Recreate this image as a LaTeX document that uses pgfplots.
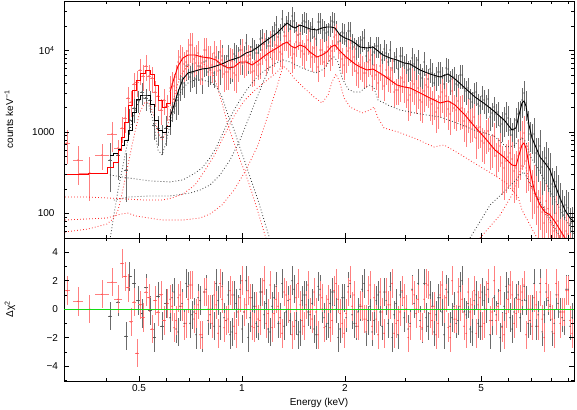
\documentclass[border=0pt]{standalone}
\usepackage{fontspec}
\setmainfont{Liberation Sans}
\usepackage{pgfplots}
\usepackage{pgfplotstable}
\pgfplotsset{compat=1.18}
\definecolor{zgreen}{RGB}{20,220,20}

% spectra: energy (keV), counts/keV, relative error, residual
\pgfplotstableread{
E C r res
0.6158 1404 0.35 -0.6
0.6326 2541 0.35 1.2
0.6499 2470 0.35 -1.6
0.6676 4345 0.35 0.4
0.6858 6454 0.35 1.8
0.7046 4730 0.35 -1.0
0.7238 5447 0.35 -0.2
0.7436 6454 0.35 0.8
0.7639 4470 0.35 -2.0
0.7847 7432 0.35 1.4
0.8062 5764 0.35 -0.4
0.8282 5296 0.35 -1.2
0.8508 7225 0.35 0.6
0.8740 8560 0.35 1.6
0.8979 6454 0.35 -0.8
0.9224 5929 0.35 -1.8
0.9476 9060 0.35 1.0
0.9734 8091 0.35 0.0
1.0000 7024 0.28 -1.4
1.0273 12360 0.28 2.0
1.0554 8807 0.28 -0.6
1.0842 10430 0.28 0.2
1.1138 9317 0.28 -1.2
1.1442 14230 0.28 1.2
1.1754 13840 0.28 0.4
1.2075 11360 0.28 -1.6
1.2405 17350 0.28 0.8
1.2744 14640 0.28 -1.0
1.3092 24350 0.28 1.8
1.3449 20550 0.28 -0.2
1.3816 18360 0.28 -0.8
1.4193 23010 0.28 1.4
1.4581 15500 0.28 -1.8
1.4979 21750 0.28 0.6
1.5388 22370 0.28 1.0
1.5808 17350 0.28 -0.4
1.6240 14640 0.28 -1.4
1.6683 22370 0.28 1.6
1.7139 18880 0.28 0.0
1.7607 16400 0.28 -1.2
1.8087 20550 0.28 0.4
1.8581 22370 0.28 1.2
1.9089 12710 0.28 -2.0
1.9610 16870 0.28 0.8
2.0145 13080 0.28 -0.6
2.0695 17350 0.28 1.8
2.1260 11040 0.28 -1.0
2.1841 11360 0.28 -0.2
2.2437 13450 0.28 1.4
2.3050 8560 0.28 -1.6
2.3679 11360 0.28 0.2
2.4325 9585 0.28 -0.8
2.4990 11360 0.28 1.0
2.5672 7643 0.28 -1.2
2.6373 9317 0.28 0.6
2.7093 10140 0.28 1.6
2.7833 7432 0.28 -0.4
2.8593 5929 0.28 -1.8
2.9373 8560 0.28 1.2
3.0175 7024 0.28 0.0
3.0999 5929 0.28 -1.0
3.1846 6829 0.32 0.4
3.2715 7643 0.32 1.8
3.3608 4598 0.32 -1.4
3.4526 5005 0.32 -0.6
3.5469 5929 0.32 1.0
3.6437 3992 0.32 -1.6
3.7432 5447 0.32 0.8
3.8454 4730 0.32 -0.2
3.9504 6100 0.32 1.4
4.0582 4224 0.32 -1.2
4.1690 4730 0.32 0.2
4.2829 3773 0.32 -0.8
4.3998 5005 0.32 2.0
4.5199 3184 0.32 -0.4
4.6433 2541 0.32 -1.4
4.7701 3010 0.32 0.6
4.9003 2206 0.32 -1.0
5.0341 2765 0.32 1.2
5.1716 2145 0.32 0.0
5.3128 1528 0.32 -1.8
5.4578 2027 0.32 0.8
5.6068 1760 0.32 0.4
5.7599 1254 0.4 -1.2
5.9171 1663 0.4 1.6
6.0787 1058 0.4 -0.6
6.2446 1058 0.4 -0.2
6.4151 1663 0.4 1.0
6.5903 2470 0.4 0.6
6.7702 2269 0.4 0.6
6.9550 945 0.4 -0.8
7.1449 945 0.55 1.8
7.3400 537 0.55 -0.4
7.5404 372 0.55 -1.6
7.7462 480 0.55 1.2
7.9577 352 0.55 0.2
8.1750 212 0.55 -1.0
8.3982 189 0.55 0.4
8.6275 124 0.55 -0.6
8.8630 127 0.55 1.4
9.1050 74.3 0.55 -1.2
}\blackdense

\pgfplotstableread{
E C r res
0.6241 2027 0.35 0.8
0.6412 2145 0.35 -1.4
0.6587 3667 0.35 0.2
0.6767 3992 0.35 -1.0
0.6951 6639 0.35 1.6
0.7141 5296 0.35 -0.4
0.7336 4470 0.35 -1.8
0.7537 6454 0.35 0.6
0.7743 7225 0.35 1.2
0.7953 5447 0.35 -0.8
0.8171 6273 0.35 0.0
0.8394 8322 0.35 1.8
0.8623 5764 0.35 -1.2
0.8858 6454 0.35 -0.6
0.9100 8560 0.35 1.0
0.9349 6273 0.35 -1.6
0.9604 8560 0.35 0.4
0.9866 10140 0.35 1.4
1.0136 8807 0.28 -0.2
1.0412 7225 0.28 -2.0
1.0697 11040 0.28 0.8
1.0989 9317 0.28 -1.0
1.1289 13840 0.28 1.2
1.1597 12020 0.28 -0.4
1.1913 11360 0.28 -1.4
1.2239 15500 0.28 0.2
1.2573 20550 0.28 1.6
1.2917 16400 0.28 -0.6
1.3269 16870 0.28 -1.2
1.3631 23010 0.28 0.6
1.4003 26500 0.28 2.0
1.4385 17350 0.28 -0.8
1.4778 15940 0.28 -1.6
1.5182 23010 0.28 1.0
1.5597 18360 0.28 -0.2
1.6022 19430 0.28 0.4
1.6460 13840 0.28 -1.8
1.6909 22370 0.28 1.4
1.7371 17850 0.28 -0.6
1.7846 16870 0.28 -1.0
1.8332 23010 0.28 1.2
1.8833 17850 0.28 0.0
1.9348 13080 0.28 -1.4
1.9876 16400 0.28 0.8
2.0418 17350 0.28 1.6
2.0976 12360 0.28 -0.4
2.1548 10430 0.28 -1.2
2.2137 11680 0.28 0.2
2.2741 14230 0.28 1.8
2.3362 9860 0.28 -0.8
2.4000 8807 0.28 -1.6
2.4655 11360 0.28 0.6
2.5329 9317 0.28 -0.2
2.6020 10430 0.28 1.2
2.6731 7225 0.28 -1.0
2.7460 6100 0.28 -2.0
2.8210 8322 0.28 0.4
2.8980 8560 0.28 1.0
2.9771 6639 0.28 -0.6
3.0584 5764 0.28 -1.4
3.1419 8091 0.32 1.4
3.2277 6273 0.32 0.0
3.3158 5148 0.32 -0.8
3.4063 7225 0.32 1.8
3.4993 4470 0.32 -1.2
3.5949 5296 0.32 0.2
3.6930 4730 0.32 -0.4
3.7939 5447 0.32 0.8
3.8975 3881 0.32 -1.8
4.0039 5929 0.32 1.2
4.1132 4470 0.32 -0.6
4.2255 3881 0.32 -1.0
4.3409 5005 0.32 1.6
4.4594 3466 0.32 -0.2
4.5812 3466 0.32 0.4
4.7063 2334 0.32 -1.6
4.8347 3096 0.32 1.0
4.9668 2085 0.32 -1.2
5.1024 2470 0.32 0.6
5.2417 2541 0.32 1.4
5.3848 1711 0.32 -0.8
5.5318 1663 0.32 -0.4
5.6829 1185 0.32 -2.0
5.8380 1444 0.4 0.2
5.9974 1485 0.4 1.2
6.1612 919 0.4 -1.4
6.3294 1404 0.4 0.8
6.5022 1711 0.4 -0.6
6.6797 3010 0.4 1.6
6.8621 1290 0.4 -1.0
7.0494 893 0.4 0.0
7.2419 552 0.55 -1.2
7.4396 673 0.55 1.8
7.6427 417 0.55 -0.4
7.8514 405 0.55 0.6
8.0658 230 0.55 -1.6
8.2860 244 0.55 1.0
8.5122 151 0.55 -0.2
8.7446 107 0.55 -0.8
8.9833 117 0.55 1.4
9.2286 76.4 0.55 -0.6
}\blackdenseb

\pgfplotstableread{
E C xr r res
0.4112 453 0.015 0.6 -0.5
0.4339 522 0.015 0.5 0.5
0.4579 342 0.015 0.6 -1.9
0.4700 1404 0.012 0.35 2.3
0.4833 1970 0.012 0.35 1.8
0.4965 2470 0.012 0.3 0.6
0.5100 3096 0.012 0.3 -0.3
0.5240 2613 0.012 0.3 1.5
0.5383 2470 0.012 0.3 -0.1
0.5530 1219 0.012 0.35 -2.0
0.5681 1120 0.012 0.4 0.9
0.5836 868 0.012 0.4 -1.2
0.5995 1120 0.012 0.4 0.4
}\blacklow

\pgfplotstableread{
E C r res
0.6241 3881 0.4 0.2
0.6412 4730 0.4 -0.8
0.6587 8322 0.4 1.0
0.6767 6829 0.4 -1.2
0.6951 9860 0.4 0.7
0.7141 11680 0.4 1.7
0.7336 8322 0.4 -0.3
0.7537 6273 0.4 -1.8
0.7743 10140 0.4 1.2
0.7953 8091 0.4 0.0
0.8171 6639 0.4 -1.0
0.8394 8091 0.4 0.3
0.8623 9585 0.4 1.8
0.8858 5148 0.4 -1.3
0.9100 5447 0.4 -0.7
0.9349 7432 0.4 1.0
0.9604 5005 0.4 -1.7
0.9866 8322 0.4 0.8
1.0136 7024 0.35 -0.2
1.0412 8560 0.35 1.3
1.0697 5447 0.35 -1.2
1.0989 7432 0.35 0.2
1.1289 6829 0.35 -0.8
1.1597 12020 0.35 2.0
1.1913 8807 0.35 -0.3
1.2239 7865 0.35 -1.3
1.2573 11680 0.35 0.7
1.2917 9585 0.35 -1.0
1.3269 15070 0.35 1.2
1.3631 12360 0.35 0.0
1.4003 8091 0.35 -1.8
1.4385 12710 0.35 0.8
1.4778 12360 0.35 0.3
1.5182 9060 0.35 -1.2
1.5597 13450 0.35 1.7
1.6022 8322 0.35 -0.7
1.6460 8322 0.35 -0.2
1.6909 10140 0.35 1.0
1.7371 7225 0.35 -1.3
1.7846 11040 0.35 0.7
1.8332 9860 0.35 -0.8
1.8833 15500 0.35 1.8
1.9348 9317 0.35 -0.3
1.9876 6639 0.35 -1.7
2.0418 9860 0.35 1.2
2.0976 7432 0.35 0.2
2.1548 5604 0.35 -1.0
2.2137 6639 0.35 0.3
2.2741 5296 0.35 -0.7
2.3362 7225 0.35 1.3
2.4000 4865 0.35 -1.2
2.4655 5005 0.35 -0.7
2.5329 6454 0.35 1.2
2.6020 3667 0.35 -1.7
2.6731 4730 0.35 0.3
2.7460 5764 0.35 1.8
2.8210 3276 0.35 -1.0
2.8980 3566 0.35 -0.2
2.9771 4106 0.45 0.8
3.0584 2470 0.45 -2.0
3.1419 4224 0.45 1.3
3.2277 3010 0.45 -0.3
3.3158 2470 0.45 -1.2
3.4063 3184 0.45 0.7
3.4993 3566 0.45 1.7
3.5949 2206 0.45 -0.8
3.6930 1760 0.45 -1.8
3.7939 2688 0.45 1.0
3.8975 2334 0.45 0.0
4.0039 1916 0.45 -1.3
4.1132 3184 0.45 2.0
4.2255 1862 0.45 -0.7
4.3409 1916 0.45 0.2
4.4594 1365 0.45 -1.2
4.5812 1760 0.45 1.2
4.7063 1365 0.45 0.3
4.8347 844 0.45 -1.7
4.9668 1152 0.45 0.8
5.1024 733 0.45 -1.0
5.2417 1029 0.45 1.8
5.3848 655 0.45 -0.2
5.5318 508 0.45 -0.8
5.6829 673 0.45 1.3
5.8380 362 0.6 -1.8
5.9974 493 0.6 0.7
6.1612 466 0.6 1.0
6.3294 362 0.6 -0.3
6.5022 636 0.6 0.7
6.6797 972 0.6 1.7
6.8621 466 0.6 0.0
7.0494 212 0.6 -1.2
7.2419 178 0.6 0.3
7.4396 155 0.6 1.2
7.6427 76.4 0.6 -2.0
7.8514 114 0.6 0.8
8.0658 78.6 0.6 -0.7
8.2860 101 0.6 1.8
8.5122 52.9 0.6 -1.0
8.7446 51.4 0.6 -0.2
8.9833 56.0 0.6 1.3
9.2286 29 0.6 -1.7
}\reddense

\pgfplotstableread{
E C r res
0.6158 3466 0.4 0.7
0.6326 3667 0.4 -1.3
0.6499 7225 0.4 0.8
0.6676 7865 0.4 0.2
0.6858 7225 0.4 -1.0
0.7046 11680 0.4 1.7
0.7238 7865 0.4 -0.7
0.7436 9317 0.4 0.3
0.7639 6273 0.4 -1.8
0.7847 10140 0.4 1.2
0.8062 8091 0.4 0.0
0.8282 9317 0.4 1.0
0.8508 5604 0.4 -1.7
0.8740 7643 0.4 0.7
0.8979 5447 0.4 -0.8
0.9224 7643 0.4 1.3
0.9476 5296 0.4 -1.2
0.9734 6829 0.4 -0.2
1.0000 10140 0.35 2.0
1.0273 7432 0.35 0.3
1.0554 7865 0.35 0.8
1.0842 5604 0.35 -1.3
1.1138 6639 0.35 -0.7
1.1442 10140 0.35 1.2
1.1754 7643 0.35 -1.0
1.2075 12710 0.35 1.7
1.2405 9585 0.35 -0.3
1.2744 11360 0.35 0.2
1.3092 9060 0.35 -1.7
1.3449 15070 0.35 1.0
1.3816 13080 0.35 0.7
1.4193 9060 0.35 -1.2
1.4581 15500 0.35 1.8
1.4979 9860 0.35 -0.8
1.5388 11360 0.35 0.3
1.5808 9317 0.35 -0.2
1.6240 10730 0.35 1.2
1.6683 6273 0.35 -1.8
1.7139 10140 0.35 0.8
1.7607 9585 0.35 0.0
1.8087 8560 0.35 -1.3
1.8581 14640 0.35 1.3
1.9089 12020 0.35 0.7
1.9610 7865 0.35 -1.0
2.0145 8091 0.35 -0.3
2.0695 10730 0.35 2.0
2.1260 8322 0.35 1.0
2.1841 5296 0.35 -1.2
2.2437 6273 0.35 0.2
2.3050 5296 0.35 -0.7
2.3679 7643 0.35 1.7
2.4325 6639 0.35 0.8
2.4990 3992 0.35 -1.8
2.5672 5005 0.35 -0.2
2.6373 5764 0.35 1.2
2.7093 4598 0.35 0.3
2.7833 3096 0.35 -1.7
2.8593 3276 0.35 -0.8
2.9373 4598 0.35 1.3
3.0175 3566 0.45 0.0
3.0999 2844 0.45 -1.2
3.1846 3881 0.45 1.0
3.2715 3466 0.45 0.7
3.3608 2334 0.45 -1.3
3.4526 3773 0.45 1.8
3.5469 2470 0.45 -0.3
3.6437 2541 0.45 0.2
3.7432 1970 0.45 -1.0
3.8454 3096 0.45 1.7
3.9504 2765 0.45 0.8
4.0582 1663 0.45 -2.0
4.1690 1970 0.45 -0.7
4.2829 2401 0.45 1.2
4.3998 1970 0.45 0.7
4.5199 1185 0.45 -1.7
4.6433 1327 0.45 -0.2
4.7701 1528 0.45 1.3
4.9003 1120 0.45 0.3
5.0341 776 0.45 -1.2
5.1716 972 0.45 1.0
5.3128 618 0.45 -0.8
5.4578 893 0.45 2.0
5.6068 585 0.45 0.2
5.7599 417 0.6 -1.3
5.9171 441 0.6 -0.3
6.0787 552 0.6 1.7
6.2446 332 0.6 -1.0
6.4151 508 0.6 0.7
6.5903 844 0.6 1.2
6.7702 441 0.6 -1.8
6.9550 342 0.6 0.0
7.1449 244 0.6 0.8
7.3400 120 0.6 -1.2
7.5404 104 0.6 -0.7
7.7462 142 0.6 1.8
7.9577 98.5 0.6 0.3
8.1750 60.9 0.6 -1.7
8.3982 80.8 0.6 1.0
8.6275 56.0 0.6 -0.2
8.8630 60.9 0.6 1.3
9.1050 35.8 0.6 -0.8
}\reddenseb

\pgfplotstableread{
E C xr r res
0.3078 733 0.02 0.45 1.3
0.3315 453 0.034 0.5 0.55
0.3590 314 0.07 0.55 0.0
0.3897 522 0.048 0.35 1.05
0.4169 945 0.034 0.4 1.9
0.4339 636 0.027 0.25 0.7
0.4457 1120 0.012 0.35 3.2
0.4548 1485 0.012 0.35 2.3
0.4642 2613 0.012 0.35 1.5
0.4736 2334 0.012 0.35 -0.9
0.4833 3881 0.012 0.35 0.5
0.4932 4106 0.012 0.35 -3.1
0.5032 5764 0.012 0.35 0.3
0.5135 4865 0.012 0.35 -0.6
0.5240 6454 0.012 0.35 1.2
0.5347 4865 0.012 0.35 0.8
0.5455 4598 0.012 0.35 -1.4
0.5567 3096 0.012 0.35 0.6
0.5681 2765 0.012 0.35 -0.2
0.5797 1862 0.012 0.35 1.0
0.5915 2470 0.012 0.35 -0.8
0.6036 2085 0.012 0.35 0.4
}\redlow

\pgfplotsset{
  bkbar/.style={only marks, mark=*, mark size=0.35pt, mark options={draw=black!75, fill=black!75},
    error bars/y dir=both, error bars/error mark=none,
    error bars/error bar style={line width=0.9pt, black!58}},
  rdbar/.style={only marks, mark=*, mark size=0.35pt, mark options={draw=red!80, fill=red!80},
    error bars/y dir=both, error bars/error mark=none,
    error bars/error bar style={line width=0.9pt, red!50}},
  comp/.style={line width=0.8pt, dash pattern=on 0.8pt off 2.2pt},
}

\begin{document}
\begin{tikzpicture}
\begin{axis}[name=top, at={(0,0)}, anchor=north west,
  scale only axis, width=510pt, height=237pt,
  xmode=log, ymode=log, xmin=0.3016, xmax=9.35, ymin=50, ymax=40500,
  axis on top, major tick length=5pt, minor tick length=2.6pt,
  tick style={black, line width=0.6pt}, axis line style={line width=0.9pt},
  xtick={0.5,1,2,5}, minor xtick={0.3,0.4,0.6,0.7,0.8,0.9,3,4,6,7,8,9},
  xticklabels={},
  ytick={100,1000,10000},
  yticklabels={\textrm{100},\textrm{1000},\textrm{10\textsuperscript{4}}},
  minor ytick={50,60,70,80,90,200,300,400,500,600,700,800,900,2000,3000,4000,5000,6000,7000,8000,9000,20000,30000,40000},
  tick label style={font=\fontsize{10}{12}\selectfont},
  label style={font=\fontsize{10}{12}\selectfont},
  yticklabel style={xshift=-6pt},
  ylabel={counts keV\textsuperscript{−1}},
  ylabel style={at={(axis description cs:-0.108,0.5)}, anchor=center}]

% data
\addplot[bkbar, error bars/y explicit relative] table[x=E, y=C, y error=r] {\blackdense};
\addplot[bkbar, error bars/y explicit relative] table[x=E, y=C, y error=r] {\blackdenseb};
\addplot[bkbar, error bars/x dir=both, error bars/x explicit relative, error bars/y explicit relative]
  table[x=E, y=C, x error=xr, y error=r] {\blacklow};
\addplot[rdbar, error bars/y explicit relative] table[x=E, y=C, y error=r] {\reddense};
\addplot[rdbar, error bars/y explicit relative] table[x=E, y=C, y error=r] {\reddenseb};
\addplot[rdbar, error bars/x dir=both, error bars/x explicit relative, error bars/y explicit relative]
  table[x=E, y=C, x error=xr, y error=r] {\redlow};

% model components
\addplot[black!80, comp] table {
0.411 47.3
0.422 95.7
0.434 194
0.443 297
0.452 453
0.464 798
0.477 1404
0.490 1970
0.503 2470
0.521 2688
0.538 1970
0.553 1219
0.568 601
0.584 522
0.600 754
0.616 1219
0.633 1862
0.650 2688
0.672 3466
0.695 3992
0.729 4345
0.764 4345
0.806 4106
0.839 3667
0.874 2688
0.910 1617
0.948 1058
0.987 636
1.027 394
1.070 237
1.114 146
1.160 83.1
1.2075 47.3
};
\addplot[black!80, comp] table {
0.411 297
0.464 273
0.538 251
0.616 244
0.672 258
0.729 314
0.764 362
0.806 480
0.839 636
0.874 919
0.910 1327
0.948 1862
0.987 2470
1.027 3184
1.070 3992
1.114 4865
1.160 5604
1.207 6273
1.257 7024
1.318 7643
1.382 7225
1.478 6273
1.580 5604
1.646 5296
1.737 5929
1.809 7643
1.858 8322
1.909 7225
1.961 4598
2.042 3370
2.126 3096
2.213 3096
2.305 3566
2.368 3773
2.433 3466
2.498 2470
2.7093 2085
2.8980 1862
3.3158 1663
3.7939 1528
4.1690 1327
4.7701 1058
5.4578 893
5.9171 655
6.2446 673
6.4151 776
6.5903 844
6.7702 754
6.9550 508
7.4396 323
8.228 146
9.1050 68.2
9.350 56.0
};
\addplot[black!80, comp] table {
0.422 146
0.464 159
0.538 164
0.616 164
0.7046 178
0.7537 194
0.8062 224
0.8623 297
0.9224 453
0.9866 798
1.0554 1617
1.1138 2844
1.1597 4345
1.2075 6273
};
\addplot[black!80, comp] table {
4.6433 50.0
5.3128 127
5.9171 194
6.2446 244
6.5022 297
6.6797 323
6.8621 258
7.2419 169
7.7462 104
8.2860 62.7
8.6275 47.3
};
\addplot[red!85, comp] table {
0.304 59.3
0.355 64.5
0.403 74.3
0.422 88
0.434 110
0.443 155
0.452 230
0.464 394
0.477 692
0.490 1152
0.503 1760
0.521 2334
0.538 2206
0.553 1572
0.568 1000
0.584 798
0.600 1000
0.616 1617
0.633 2688
0.650 3992
0.672 5447
0.695 6454
0.729 7024
0.764 7024
0.806 6100
0.839 4106
0.874 2269
0.910 1219
0.948 733
0.987 453
1.027 297
1.070 178
1.114 104
1.160 59.3
1.191 41
};
\addplot[red!85, comp] table {
0.304 159
0.355 159
0.403 155
0.452 151
0.521 146
0.584 146
0.624 155
0.672 173
0.729 224
0.774 323
0.828 508
0.886 893
0.948 1572
1.014 2401
1.084 3184
1.175 4224
1.257 5296
1.318 6454
1.363 5764
1.419 4598
1.518 3466
1.624 2688
1.714 2269
1.785 2844
1.833 4106
1.883 5148
1.934 3992
1.988 2613
2.069 2027
2.244 1711
2.368 1862
2.433 2027
2.498 1485
2.6020 1120
2.8593 1000
3.1846 844
3.6437 655
3.8975 692
4.2829 552
4.7701 417
5.4578 297
5.9171 237
6.4151 159
6.5903 110
6.9550 72.2
7.3400 47.3
};
\addplot[red!85, comp] table {
0.304 83.1
0.403 88
0.443 98.5
0.464 101
0.490 93.1
0.584 83.1
0.672 83.1
0.7537 88
0.8062 98.5
0.8740 127
0.9476 194
1.0273 342
1.1138 692
1.1913 1617
1.2573 3276
1.318 6454
};
\addplot[red!85, comp] table {
4.9668 50
5.6829 95.7
6.1612 169
6.4151 273
6.5903 394
6.7702 362
6.9550 224
7.4396 127
7.9577 78.6
8.5122 50
};

% total models
\addplot[black, line width=0.9pt, const plot] table {
0.411 522
0.422 552
0.434 618
0.443 692
0.452 798
0.464 1058
0.477 1760
0.490 2541
0.503 2844
0.521 2844
0.538 2206
0.553 1404
0.568 1058
0.584 1000
0.600 1185
0.616 1528
};
\addplot[black, line width=0.9pt] table {
0.616 1528
0.633 2145
0.650 3096
0.672 4470
0.695 5296
0.729 5604
0.764 5929
0.806 6100
0.839 6454
0.874 6829
0.910 7432
0.948 7865
0.987 8322
1.027 9317
1.070 9860
1.114 11040
1.152 12360
1.207 14230
1.266 16400
1.318 19430
1.354 21750
1.391 19980
1.429 18880
1.478 20550
1.529 19430
1.580 18360
1.657 17850
1.714 18880
1.772 19430
1.820 19430
1.870 18880
1.934 15500
2.001 14230
2.069 13450
2.140 12360
2.213 11040
2.320 10730
2.416 11040
2.498 9860
2.584 8807
2.708 8091
2.839 7643
2.976 7024
3.099 6829
3.315 5764
3.545 5148
3.793 4730
4.003 5148
4.196 4470
4.487 3466
4.800 2688
5.135 2206
5.493 1760
5.875 1365
6.159 1058
6.327 1120
6.456 1617
6.588 2269
6.677 2401
6.768 2085
6.906 1219
7.047 844
7.190 692
7.437 493
7.691 417
7.955 342
8.228 224
8.509 155
8.800 110
9.101 88
9.350 79
};
\addplot[red, line width=0.9pt, const plot] table {
0.304 305
0.355 314
0.403 362
0.422 428
0.434 601
0.443 868
0.452 1327
0.464 2145
0.477 3276
0.490 4345
0.503 5296
0.521 5764
0.538 5148
0.553 3773
0.568 2470
0.584 2027
0.600 2269
0.616 3096
};
\addplot[red, line width=0.9pt] table {
0.616 3096
0.633 4598
0.650 6454
0.672 8091
0.695 8807
0.729 8807
0.764 8322
0.806 8091
0.839 7643
0.874 6639
0.910 6100
0.948 6273
0.987 7225
1.027 7225
1.070 6639
1.114 7432
1.152 8322
1.207 9585
1.266 10730
1.318 12020
1.354 12710
1.391 11360
1.429 10730
1.478 11680
1.529 11040
1.580 9585
1.657 8322
1.714 8807
1.772 9585
1.820 11040
1.870 11680
1.934 9860
2.001 8560
2.069 7643
2.140 6829
2.213 6273
2.320 5764
2.416 5929
2.498 5447
2.584 5005
2.708 4345
2.839 3773
2.976 3566
3.099 3466
3.315 3010
3.545 2613
3.793 2269
4.003 2401
4.196 2145
4.487 1617
4.800 1152
5.135 844
5.493 601
5.875 480
6.159 394
6.327 383
6.456 522
6.588 692
6.677 733
6.768 636
6.906 394
7.047 258
7.190 178
7.437 127
7.691 104
7.955 96
8.228 79
8.509 63
8.800 50
9.101 41
9.350 36
};
\end{axis}

\begin{axis}[at={(top.south west)}, anchor=north west,
  scale only axis, width=510pt, height=143pt,
  xmode=log, xmin=0.3016, xmax=9.35, ymin=-5.05, ymax=5,
  axis on top, major tick length=5pt, minor tick length=2.6pt,
  tick style={black, line width=0.6pt}, axis line style={line width=0.9pt},
  xtick={0.5,1,2,5}, minor xtick={0.3,0.4,0.6,0.7,0.8,0.9,3,4,6,7,8,9},
  xticklabels={\textrm{0.5},\textrm{1},\textrm{2},\textrm{5}},
  ytick={-4,-2,0,2,4},
  yticklabels={\textrm{−4},\textrm{−2},\textrm{0},\textrm{2},\textrm{4}},
  minor ytick={-5,-3,-1,1,3,5},
  tick label style={font=\fontsize{10}{12}\selectfont},
  label style={font=\fontsize{10}{12}\selectfont},
  yticklabel style={xshift=-2.5pt},
  xlabel={Energy (keV)},
  ylabel={Δχ\textsuperscript{2}},
  ylabel style={at={(axis description cs:-0.106,0.5)}, anchor=center}]
\addplot[bkbar, error bars/y fixed=1] table[x=E, y=res] {\blackdense};
\addplot[bkbar, error bars/y fixed=1] table[x=E, y=res] {\blackdenseb};
\addplot[bkbar, error bars/x dir=both, error bars/x explicit relative, error bars/y fixed=1]
  table[x=E, y=res, x error=xr] {\blacklow};
\addplot[rdbar, error bars/y fixed=1] table[x=E, y=res] {\reddense};
\addplot[rdbar, error bars/y fixed=1] table[x=E, y=res] {\reddenseb};
\addplot[rdbar, error bars/x dir=both, error bars/x explicit relative, error bars/y fixed=1]
  table[x=E, y=res, x error=xr] {\redlow};
\addplot[draw=zgreen, line width=1.1pt, mark=none, forget plot]
  coordinates {(0.3016,0) (9.35,0)};
\coordinate (zl) at (axis cs:0.3016,0);
\coordinate (zr) at (axis cs:9.35,0);
\end{axis}
% zero line again, above the error bars
\draw[zgreen, line width=1.1pt] (zl) -- (zr);
\pgfresetboundingbox
\useasboundingbox (-64pt,1pt) rectangle (513pt,-408pt);
\end{tikzpicture}
\end{document}
